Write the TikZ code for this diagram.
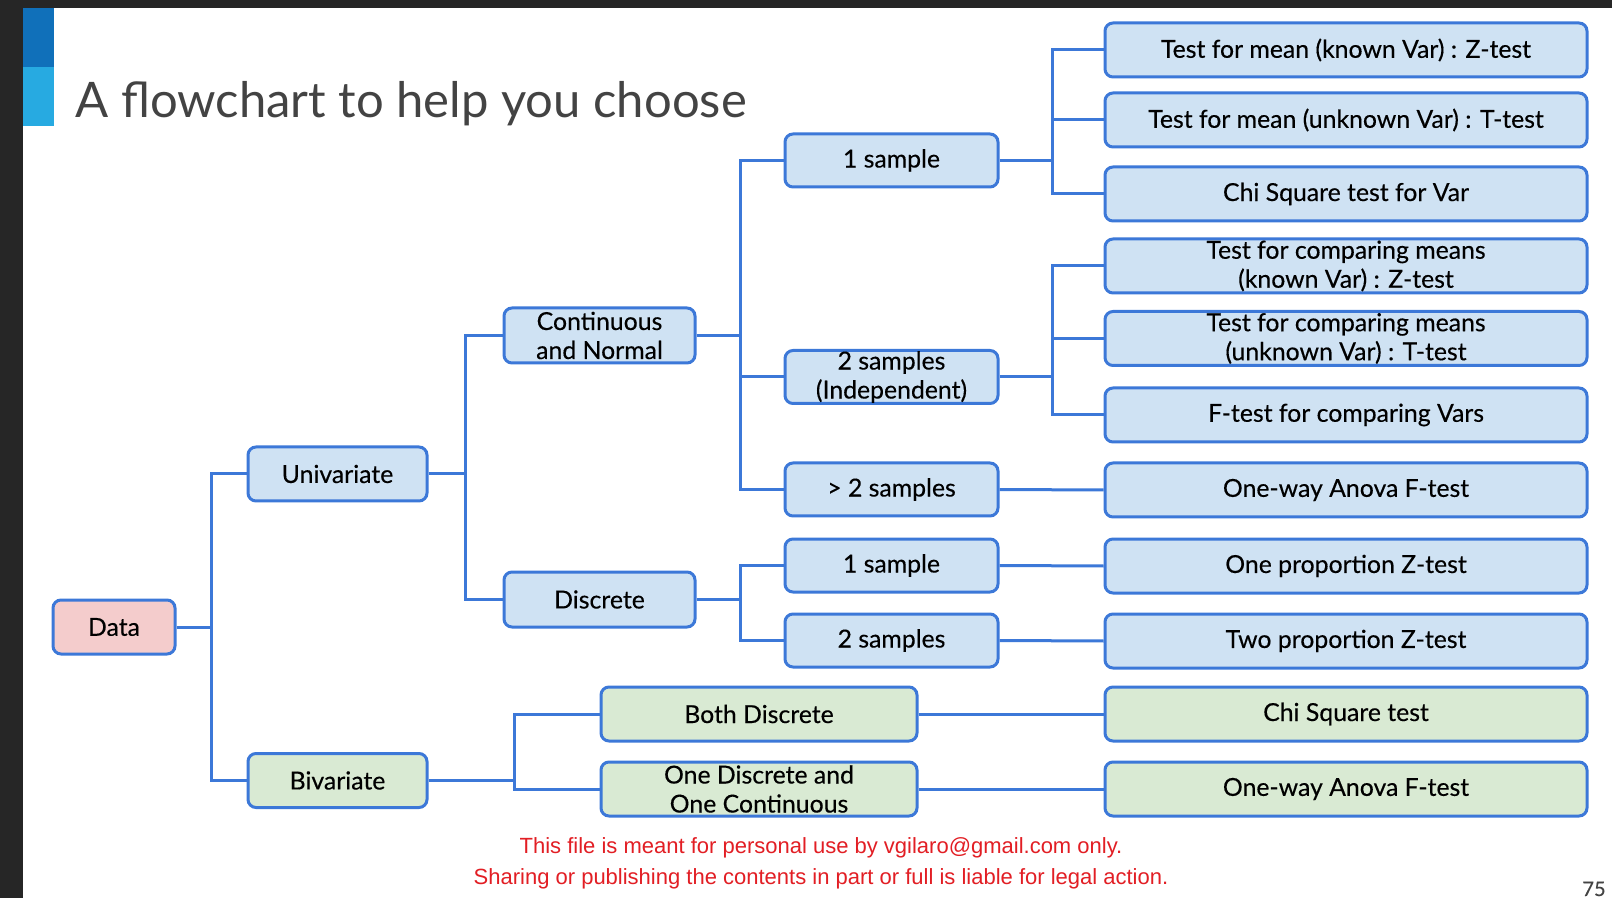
\documentclass[tikz,border=0pt]{standalone}
\usepackage{fontspec}
\setmainfont{Lato}
\newfontfamily\boxfont{Lato}[FakeBold=0.3]
\newfontfamily\notefont{Liberation Sans}
\usetikzlibrary{calc}
\definecolor{edgeblue}{RGB}{60,120,216}
\definecolor{fillblue}{RGB}{207,226,243}
\definecolor{fillgreen}{RGB}{217,234,211}
\definecolor{fillpink}{RGB}{244,204,204}
\definecolor{darkframe}{RGB}{38,38,38}
\definecolor{bardark}{RGB}{16,112,186}
\definecolor{barlight}{RGB}{39,170,225}
\definecolor{titlegray}{RGB}{67,67,67}
\definecolor{notered}{RGB}{226,30,36}
\tikzstyle{choice}=[draw=edgeblue, line width=1.5pt, fill=fillblue,
  rounded corners=4pt, align=center, inner sep=0pt,
  font=\boxfont\fontsize{12.4}{14.5}\selectfont]
\tikzstyle{rootbox}=[choice, fill=fillpink, minimum width=61pt, minimum height=27pt]
\tikzstyle{splitbox}=[choice, minimum width=89.5pt, minimum height=27pt]
\tikzstyle{kindbox}=[choice, minimum width=95.5pt, minimum height=27.5pt]
\tikzstyle{samplebox}=[choice, minimum width=106.5pt, minimum height=26.5pt]
\tikzstyle{pairbox}=[choice, fill=fillgreen, minimum width=158pt, minimum height=27pt]
\tikzstyle{testbox}=[choice, minimum width=241pt, minimum height=27pt]
\tikzstyle{link}=[draw=edgeblue, line width=1.5pt]
\newcommand{\sample}[2]{node (s#1) [samplebox] {#2}}
\newcommand{\testnode}[2]{node (t#1) [testbox] {#2}}
\newcommand{\greentest}[2]{node (t#1) [testbox, fill=fillgreen] {#2}}

\begin{document}
\begin{tikzpicture}[x=0.5pt, y=-0.5pt]
  \useasboundingbox (0,0) rectangle (1612,898);
  % slide background and frame
  \fill[white] (0,0) rectangle (1612,898);
  \fill[darkframe] (0,0) rectangle (23,898);
  \fill[darkframe] (0,0) rectangle (1612,8);
  \fill[bardark] (23,8) rectangle (54,67);
  \fill[barlight] (23,67) rectangle (54,126);
  \node (title) [anchor=base west, inner sep=0pt, text=titlegray,
    font=\fontsize{24.5}{28}\selectfont] at (75,118) {A flowchart to help you choose};

  % tree
  \node (data) [rootbox] at (114,627) {Data};
  \node (univ) [splitbox] at (337.5,474) {Univariate};
  \node (biv) [splitbox, fill=fillgreen] at (337.5,780.5) {Bivariate};
  \node (cont) [kindbox] at (599.5,335.5) {Continuous\\and Normal};
  \node (disc) [kindbox] at (599.5,599.5) {Discrete};
  \node (both) [pairbox] at (759,714) {Both Discrete};
  \node (mixed) [pairbox] at (759,789) {One Discrete and\\One Continuous};

  \path (891.5,160.5) \sample{1}{1 sample};
  \path (891.5,377) \sample{2}{2 samples\\(Independent)};
  \path (891.5,489.5) \sample{3}{> 2 samples};
  \path (891.5,565.5) \sample{4}{1 sample};
  \path (891.5,640.5) \sample{5}{2 samples};

  \path (1346,50) \testnode{1}{Test for mean (known Var) : Z-test};
  \path (1346,120) \testnode{2}{Test for mean (unknown Var) : T-test};
  \path (1346,194) \testnode{3}{Chi Square test for Var};
  \path (1346,266) \testnode{4}{Test for comparing means\\(known Var) : Z-test};
  \path (1346,338.5) \testnode{5}{Test for comparing means\\(unknown Var) : T-test};
  \path (1346,415) \testnode{6}{F-test for comparing Vars};
  \path (1346,490) \testnode{7}{One-way Anova F-test};
  \path (1346,566) \testnode{8}{One proportion Z-test};
  \path (1346,641) \testnode{9}{Two proportion Z-test};
  \path (1346,714) \greentest{10}{Chi Square test};
  \path (1346,789) \greentest{11}{One-way Anova F-test};

  % bus lines
  \coordinate (busdata) at (211,0);
  \coordinate (busuni) at (465,0);
  \coordinate (busbiv) at (514,0);
  \coordinate (buscont) at (740,0);
  \coordinate (busone) at (1052,0);

  \draw[link] (data.east) -- (data.east -| busdata);
  \draw[link] (univ.west) -- (univ.west -| busdata) -- (biv.west -| busdata) -- (biv.west);

  \draw[link] (univ.east) -- (univ.east -| busuni);
  \draw[link] (cont.west) -- (cont.west -| busuni) -- (disc.west -| busuni) -- (disc.west);

  \draw[link] (biv.east) -- (biv.east -| busbiv);
  \draw[link] (both.west) -- (both.west -| busbiv) -- (mixed.west -| busbiv) -- (mixed.west);

  \draw[link] (cont.east) -- (cont.east -| buscont);
  \draw[link] (s1.west) -- (s1.west -| buscont) -- (s3.west -| buscont) -- (s3.west);
  \draw[link] (s2.west) -- (s2.west -| buscont);

  \draw[link] (disc.east) -- (disc.east -| buscont);
  \draw[link] (s4.west) -- (s4.west -| buscont) -- (s5.west -| buscont) -- (s5.west);

  \draw[link] (s1.east) -- (s1.east -| busone);
  \draw[link] (t1.west) -- (t1.west -| busone) -- (t3.west -| busone) -- (t3.west);
  \draw[link] (t2.west) -- (t2.west -| busone);

  \draw[link] (s2.east) -- (s2.east -| busone);
  \draw[link] (t4.west) -- (t4.west -| busone) -- (t6.west -| busone) -- (t6.west);
  \draw[link] (t5.west) -- (t5.west -| busone);

  \draw[link] (s3.east) -- (t7.west);
  \draw[link] (s4.east) -- (t8.west);
  \draw[link] (s5.east) -- (t9.west);
  \draw[link] (both.east) -- (t10.west);
  \draw[link] (mixed.east) -- (t11.west);

  % footer
  \node (note1) [anchor=base, inner sep=0pt, text=notered,
    font=\notefont\fontsize{11}{13}\selectfont] at (821,853)
    {This file is meant for personal use by vgilaro@gmail.com only.};
  \node (note2) [anchor=base, inner sep=0pt, text=notered,
    font=\notefont\fontsize{11}{13}\selectfont] at (821,884)
    {Sharing or publishing the contents in part or full is liable for legal action.};
  \node (pageno) [anchor=base east, inner sep=0pt, text=titlegray,
    font=\boxfont\fontsize{10}{12}\selectfont] at (1606,896) {75};
\end{tikzpicture}
\end{document}
